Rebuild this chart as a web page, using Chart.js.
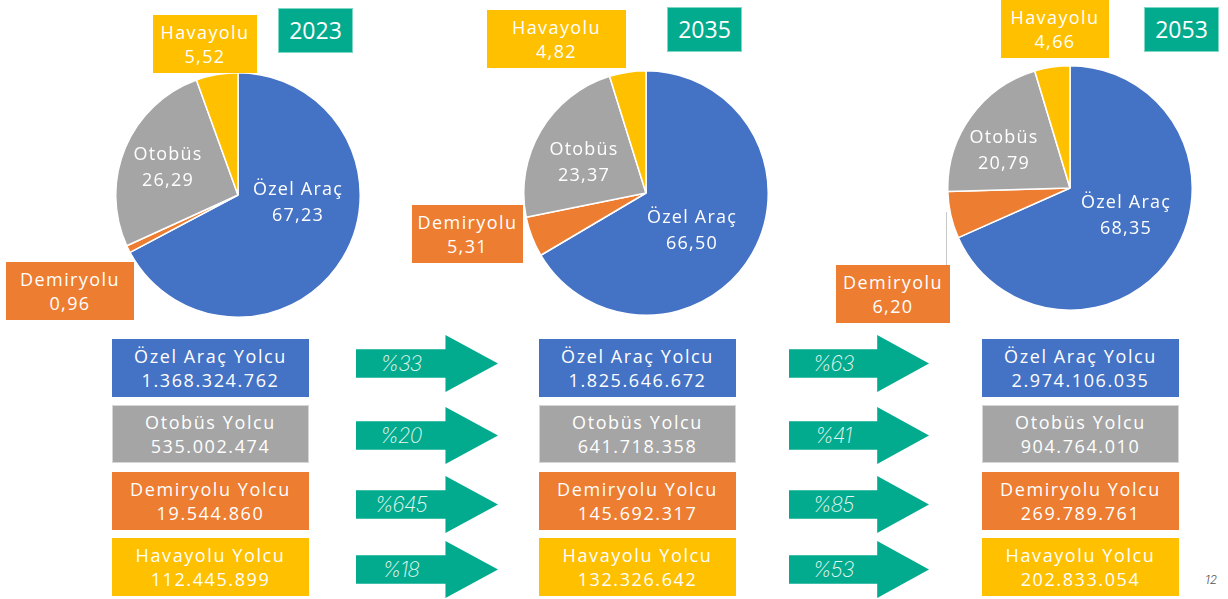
<!DOCTYPE html>
<html>
<head>
<meta charset="utf-8">
<script src="https://cdn.jsdelivr.net/npm/chart.js@4"></script>
<style>
  body { margin: 0; width: 1228px; height: 599px; background: #fff; position: relative; overflow: hidden; font-family: "Open Sans", "Noto Sans", sans-serif; }
  .abs { position: absolute; }
  .box { position: absolute; color: #fff; text-align: center; font-size: 18px; letter-spacing: 1.4px; line-height: 24px; display: flex; flex-direction: column; justify-content: center; }
  .lbl { position: absolute; color: #fff; text-align: center; font-size: 18px; letter-spacing: 1.2px; line-height: 26px; transform: translate(-50%, -50%); white-space: nowrap; }
  .year { position: absolute; width: 73px; height: 43px; background: #02AB8E; border: 1px solid #7fd8c6; color: #fff; font-size: 23px; line-height: 43px; text-align: center; }
  .arrow { position: absolute; height: 57px; background: #02AB8E; clip-path: polygon(0 25%, 63% 25%, 63% 0, 100% 50%, 63% 100%, 63% 75%, 0 75%); }
  .arrow span { position: absolute; left: 0; width: 63%; top: 0; height: 57px; line-height: 57px; text-align: center; color: #e3f6f1; font-family: Inter, Lato, sans-serif; font-weight: 200; font-style: italic; font-size: 21px; letter-spacing: -1px; }
</style>
</head>
<body>
<script>
const years = ["2023", "2035", "2053"];
const modes = ["Özel Araç", "Demiryolu", "Otobüs", "Havayolu"];
const share2023 = [67.23, 0.96, 26.29, 5.52];
const share2035 = [66.50, 5.31, 23.37, 4.82];
const share2053 = [68.35, 6.20, 20.79, 4.66];
const pax2023 = [1368324762, 19544860, 535002474, 112445899];
const pax2035 = [1825646672, 145692317, 641718358, 132326642];
const pax2053 = [2974106035, 269789761, 904764010, 202833054];
const growth2035 = [33, 645, 20, 18];
const growth2053 = [63, 85, 41, 53];

const colors = ["#4472C4", "#ED7D31", "#A5A5A5", "#FFC000"];
const shares = [share2023, share2035, share2053];
const paxes = [pax2023, pax2035, pax2053];
const growths = [growth2035, growth2053];

const fmtShare = v => v.toFixed(2).replace(".", ",");
const fmtPax = v => String(v).replace(/\B(?=(\d{3})+(?!\d))/g, ".");

// layout of each pie panel
const panels = [
  { cx: 238, cy: 195, year: [278, 8], hava: [153, 15, 104], demir: [6, 262, 128], oto: [168, 166], ozel: [298, 201] },
  { cx: 646, cy: 193, year: [667, 7], hava: [487, 10, 139], demir: [412, 205, 111], oto: [584, 161], ozel: [692, 229] },
  { cx: 1070, cy: 188, year: [1144, 7], hava: [1001, 0, 108], demir: [836, 265, 114], oto: [1004, 149], ozel: [1126, 214] }
];

function el(tag, cls, css, html) {
  const d = document.createElement(tag);
  if (cls) d.className = cls;
  Object.assign(d.style, css);
  if (html !== undefined) d.innerHTML = html;
  document.body.appendChild(d);
  return d;
}

const size = 246;
panels.forEach((p, i) => {
  const data = shares[i];
  const wrap = el("div", "abs", { left: (p.cx - size / 2) + "px", top: (p.cy - size / 2) + "px", width: size + "px", height: size + "px" });
  const cv = document.createElement("canvas");
  cv.width = size; cv.height = size;
  wrap.appendChild(cv);
  new Chart(cv, {
    type: "pie",
    data: {
      labels: modes,
      datasets: [{ data: data, backgroundColor: colors, borderColor: "#fff", borderWidth: 1.5, hoverOffset: 0 }]
    },
    options: {
      responsive: false,
      animation: false,
      events: [],
      layout: { padding: 0 },
      plugins: { legend: { display: false }, tooltip: { enabled: false } }
    }
  });

  el("div", "year", { left: p.year[0] + "px", top: p.year[1] + "px" }, years[i]);
  el("div", "box", { left: p.hava[0] + "px", top: p.hava[1] + "px", width: p.hava[2] + "px", height: "58px", background: colors[3] },
    modes[3] + "<br>" + fmtShare(data[3]));
  el("div", "box", { left: p.demir[0] + "px", top: p.demir[1] + "px", width: p.demir[2] + "px", height: "58px", background: colors[1] },
    modes[1] + "<br>" + fmtShare(data[1]));
  el("div", "lbl", { left: p.oto[0] + "px", top: p.oto[1] + "px" }, modes[2] + "<br>" + fmtShare(data[2]));
  el("div", "lbl", { left: p.ozel[0] + "px", top: p.ozel[1] + "px" }, modes[0] + "<br>" + fmtShare(data[0]));
});

// leader line for 2053 Demiryolu
el("div", "abs", { left: "946px", top: "212px", width: "1px", height: "53px", background: "#c8c8c8" });

// passenger boxes
const rowOrder = [0, 2, 1, 3];
const rowTops = [339, 405, 472, 538];
const colLefts = [112, 539, 982];
colLefts.forEach((x, c) => {
  rowOrder.forEach((m, r) => {
    el("div", "box", { left: x + "px", top: rowTops[r] + "px", width: "197px", height: "58px", background: colors[m], boxSizing: "border-box",
      border: m === 2 ? "1px solid #d6d6d6" : "none", letterSpacing: "1.6px" },
      modes[m] + " Yolcu<br>" + fmtPax(paxes[c][m]));
  });
});

// growth arrows
const arrowTops = [335, 407, 476, 541];
const arrowCols = [[356, 142], [789, 140]];
arrowCols.forEach((a, c) => {
  rowOrder.forEach((m, r) => {
    el("div", "arrow", { left: a[0] + "px", top: arrowTops[r] + "px", width: a[1] + "px" }, "<span>%" + growths[c][m] + "</span>");
  });
});

el("div", "abs", { left: "1205px", top: "572px", fontSize: "12px", fontStyle: "italic", color: "#555", fontFamily: "Inter, sans-serif", fontWeight: "300" }, "12");
</script>
</body>
</html>
